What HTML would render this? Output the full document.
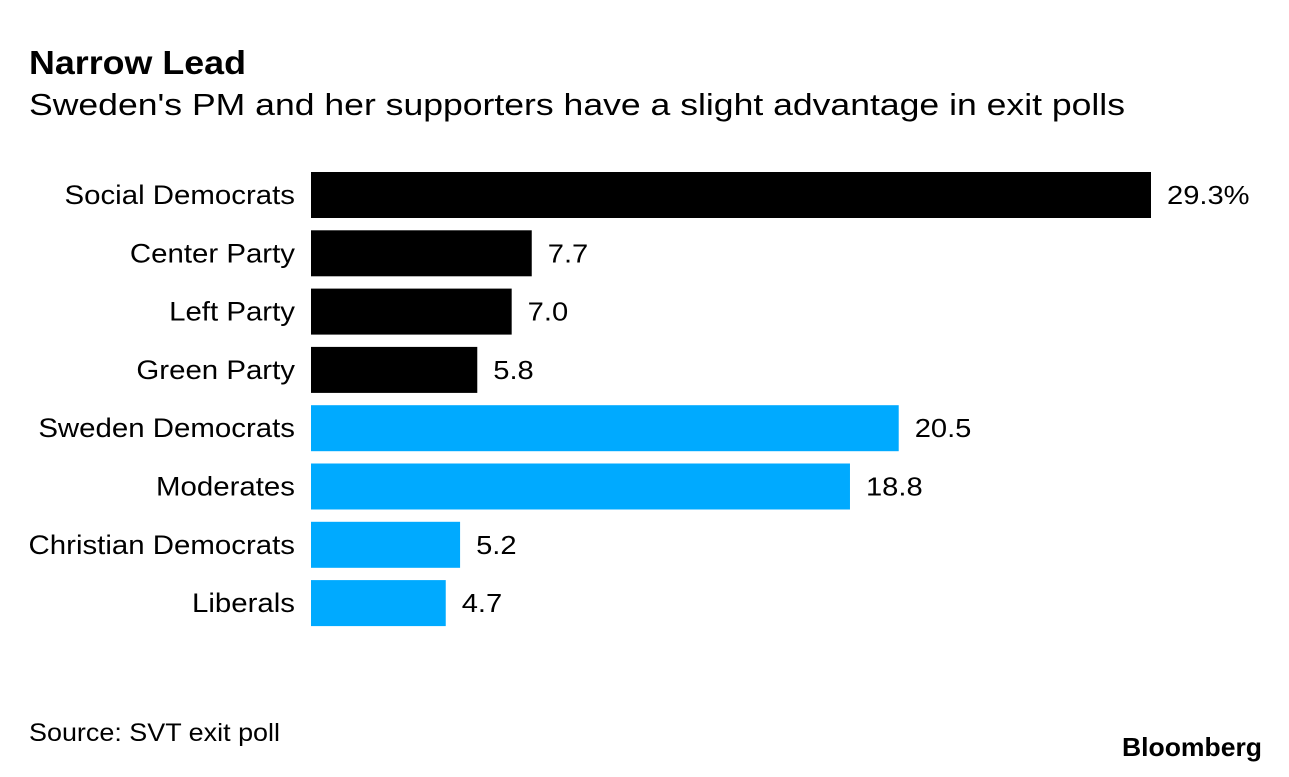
<!DOCTYPE html>
<html><head><meta charset="utf-8"><style>
body{margin:0;background:#fff;}
svg text{font-family:"Liberation Sans",Arial,sans-serif;}
</style></head><body>
<svg width="1289" height="772" viewBox="0 0 1289 772">
<text x="29" y="74" font-size="33" font-weight="bold" fill="#000" textLength="217" lengthAdjust="spacingAndGlyphs">Narrow Lead</text>
<text x="29" y="115" font-size="31" fill="#000" textLength="1096" lengthAdjust="spacingAndGlyphs">Sweden's PM and her supporters have a slight advantage in exit polls</text>
<g id="bars"></g>
<text x="29" y="741" font-size="25" fill="#000" textLength="251" lengthAdjust="spacingAndGlyphs">Source: SVT exit poll</text>
<text x="1122" y="756" font-size="26" font-weight="bold" fill="#000" textLength="140" lengthAdjust="spacingAndGlyphs">Bloomberg</text>
</svg>
<script>
const categories=["Social Democrats","Center Party","Left Party","Green Party","Sweden Democrats","Moderates","Christian Democrats","Liberals"];
const values=[29.3,7.7,7.0,5.8,20.5,18.8,5.2,4.7];
const valueLabels=["29.3%","7.7","7.0","5.8","20.5","18.8","5.2","4.7"];
const groups=["gov","gov","gov","gov","opp","opp","opp","opp"];
const NS="http://www.w3.org/2000/svg";
const x0=311, pxPer=840/29.3, top0=172, pitch=58.3, bh=46;
const xScale=v=>v*pxPer;
const yScale=i=>top0+i*pitch;
const g=document.getElementById('bars');
function stretch(t,f){const w=t.getComputedTextLength();t.setAttribute('textLength',w*f);t.setAttribute('lengthAdjust','spacingAndGlyphs');}
categories.forEach((c,i)=>{
  const y=yScale(i);
  const r=document.createElementNS(NS,'rect');
  r.setAttribute('x',x0);r.setAttribute('y',y);
  r.setAttribute('width',xScale(values[i]));r.setAttribute('height',bh);
  r.setAttribute('fill',groups[i]==='gov'?'#000':'#00aaff');
  
  
  g.appendChild(r);
  const t=document.createElementNS(NS,'text');
  t.setAttribute('x',295);t.setAttribute('y',y+bh/2+9);
  t.setAttribute('text-anchor','end');t.setAttribute('font-size','26.5');
  t.textContent=c;
  
  
  g.appendChild(t);
  stretch(t,1.11);
  const v=document.createElementNS(NS,'text');
  v.setAttribute('x',x0+xScale(values[i])+16);v.setAttribute('y',y+bh/2+9);
  v.setAttribute('font-size','26');
  v.textContent=valueLabels[i];
  
  
  g.appendChild(v);
  stretch(v,1.12);
});
</script>
</body></html>
